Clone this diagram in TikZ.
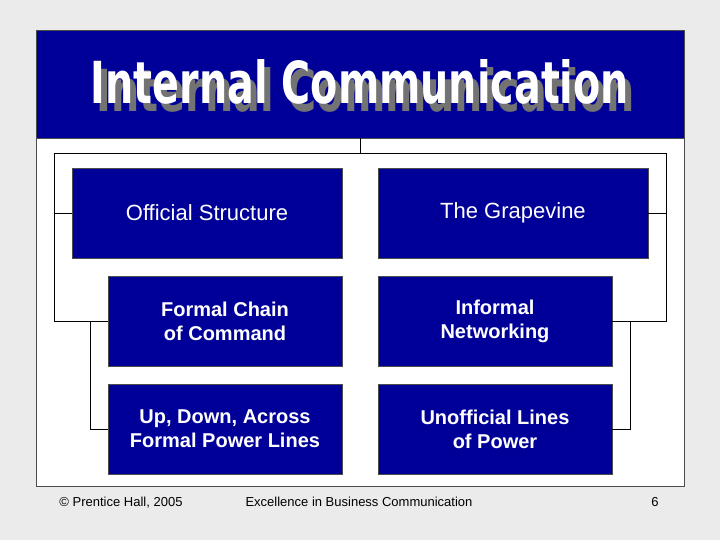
\documentclass[tikz,border=0pt]{standalone}
\usepackage{fontspec}
\setmainfont{Liberation Sans}
\newfontfamily\titlefont{DejaVu Sans}
\definecolor{navy}{HTML}{000099}
\definecolor{bg}{HTML}{EBEBEB}
\begin{document}
\begin{tikzpicture}[x=1pt,y=-1pt,
  box/.style={draw=black!70,fill=navy,inner sep=0pt,align=center,text=white,font=\bfseries\fontsize{20}{24}\selectfont},
  boxa/.style={box,font=\fontsize{22}{26}\selectfont},
  conn/.style={draw=black,line width=0.8pt}]
\useasboundingbox (0,0) rectangle (720,540);
\fill[bg] (0,0) rectangle (720,540);
\fill[white,draw=black!70] (36,30) rectangle (684,486);
\fill[navy,draw=black!70] (36,30) rectangle (684,138);
\node (title) at (360,86) {\resizebox{538pt}{44pt}{\titlefont\bfseries\rlap{\kern1.5pt\raisebox{-1.5pt}{\color{black!55}Internal Communication}}\color{white}Internal Communication}};
\coordinate (tb) at (360,138);
\node[boxa,minimum width=270,minimum height=90] (os) at (207,213) {Official Structure};
\node[box,minimum width=234,minimum height=90] (fc) at (225,321) {Formal Chain\\of Command};
\node[box,minimum width=234,minimum height=90] (ud) at (225,429) {Up, Down, Across\\Formal Power Lines};
\node[boxa,minimum width=270,minimum height=90] (gv) at (513,213) {The Grapevine};
\node[box,minimum width=234,minimum height=90] (in) at (495,321) {Informal\\Networking};
\node[box,minimum width=234,minimum height=90] (ul) at (495,429) {Unofficial Lines\\of Power};
\draw[conn] (tb) -- (360,153) (54,153) -- (666,153);
\draw[conn] (54,153) |- (os.west) (54,213) |- (fc.west);
\draw[conn] (90,321) |- (ud.west);
\draw[conn] (666,153) |- (gv.east) (666,213) |- (in.east);
\draw[conn] (630,321) |- (ul.east);
\node (f1) at (121,503) {\fontsize{13}{15}\selectfont © Prentice Hall, 2005};
\node (f2) at (359,502) {\fontsize{13}{15}\selectfont Excellence in Business Communication};
\node (f3) at (655,502) {\fontsize{13}{15}\selectfont 6};
\end{tikzpicture}
\end{document}
